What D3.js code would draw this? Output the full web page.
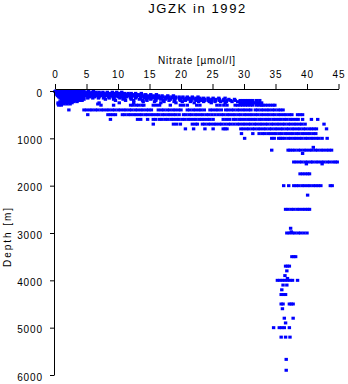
<!DOCTYPE html>
<html><head><meta charset="utf-8">
<script src="https://cdn.jsdelivr.net/npm/d3@7/dist/d3.min.js"></script>
<style>html,body{margin:0;padding:0;background:#fff;}svg{display:block;}</style>
</head><body>
<svg id="chart" width="348" height="384"></svg>
<script>
const titleText = "JGZK in 1992";
const xLabelText = "Nitrate [µmol/l]";
const yLabelText = "Depth [m]";
const xTicks = [0, 5, 10, 15, 20, 25, 30, 35, 40, 45];
const yTicks = [0, 1000, 2000, 3000, 4000, 5000, 6000];

// Sample depths (m) and the nitrate values (µmol/l) observed at each depth
const depths = [0, 10, 25, 50, 75, 100, 125, 150, 175, 200, 225, 250, 275, 300,
  400, 500, 600, 700, 800, 900, 1000, 1190, 1250, 1320, 1500, 1540, 1750, 2000, 2200,
  2500, 2900, 2975, 3000, 3500, 3700, 3800, 3900, 3960, 4000, 4100, 4200, 4300, 4500,
  4600, 4800, 4900, 5000, 5200, 5670, 5900];
const nitrate = [
  [0.1,0.5,0.9,1.3,1.8,2.2,2.6,3.1,3.5,3.9,4.3],
  [0.0,0.4,0.8,1.2,1.7,2.1,2.5,3.0,3.4,3.8,4.2,4.6,5.3,6.1],
  [0.2,0.6,1.0,1.4,1.9,2.3,2.7,3.2,3.6,4.0,4.5,4.9,5.4,5.9,6.5,7.0,7.6,8.3,9.1,9.8,10.6],
  [0.2,0.6,1.1,1.5,2.0,2.4,2.9,3.3,3.8,4.2,4.7,5.1,5.6,6.0,6.5,6.9,7.4,7.8,8.3,8.7,9.2,9.6,10.1,10.5,11.0,11.6,12.1,12.8,13.7],
  [0.3,0.7,1.2,1.6,2.1,2.5,3.0,3.4,3.9,4.3,4.8,5.2,5.7,6.1,6.6,7.0,7.5,7.9,8.4,8.8,9.3,9.7,10.2,10.6,11.1,11.5,12.0,12.4,12.9,13.3,13.8,14.4,15.2,16.1],
  [0.4,0.8,1.3,1.7,2.2,2.6,3.1,3.5,4.0,4.4,4.9,5.3,5.8,6.4,6.9,7.3,7.8,8.2,8.7,9.1,9.6,10.0,10.5,10.9,11.4,11.8,12.3,12.7,13.2,13.6,14.1,14.5,15.0,15.6,16.4,17.0,17.9,18.8],
  [0.6,1.0,1.5,1.9,2.4,2.8,3.3,3.7,4.2,4.6,5.5,6.3,7.0,7.8,8.5,9.2,10.0,10.7,11.4,12.2,12.9,13.6,14.1,14.6,15.1,15.6,16.1,16.6,17.1,17.6,18.1,18.6,19.1,19.7,20.3,21.0,21.8,22.7],
  [0.8,1.2,1.7,2.1,2.6,3.0,3.5,3.9,4.4,5.2,6.0,6.9,7.7,8.6,9.4,10.3,11.1,12.0,12.8,13.6,14.2,14.7,15.3,15.8,16.4,16.9,17.5,18.0,18.6,19.1,19.7,20.2,20.8,21.3,21.9,22.4,23.0,23.6,24.3,25.1,26.0,27.0],
  [1.0,1.4,1.9,2.3,2.8,3.2,3.7,4.1,4.6,8.0,9.3,10.8,12.1,13.4,14.5,15.2,16.0,16.8,17.5,18.3,19.0,19.8,20.5,21.1,21.6,22.2,22.7,23.3,23.8,24.4,24.9,25.5,26.1,26.8,27.6,28.5],
  [1.2,1.6,2.1,2.5,3.0,3.4,3.9,4.3,9.6,11.2,12.5,13.9,14.6,16.0,17.2,18.1,19.0,19.9,20.7,21.6,22.4,23.1,23.7,24.3,24.9,25.5,26.1,26.7,27.3,27.9,28.6,29.4,29.8,30.2,30.6,31.0,31.4,32.0,32.5],
  [0.8,1.2,1.7,2.1,2.6,3.0,3.5,14.0,15.8,17.3,18.9,20.2,21.5,22.8,23.6,24.5,25.4,26.3,27.2,28.1,29.0,30.4,31.3],
  [0.5,0.9,1.4,1.8,2.3,2.7,7.0,10.2,12.5,16.8,19.2,22.1,24.8,27.0,29.4,29.8,30.2,30.6,31.0,31.5,31.9,32.3,32.8],
  [0.5,0.9,1.4,1.9,2.4,6.8],
  [0.6,1.0,7.3,9.3,12.0,12.4,12.9,13.3,13.8,14.1,15.6,16.1,16.6,18.3,19.9,20.4,21.0,22.5,23.0,25.7,26.2,26.8,27.3,28.6,29.0,29.4,29.8,30.2,30.6,31.0,31.4,32.0,32.4,32.8,33.0,33.4,33.8,34.2,34.6,34.9],
  [2.2,4.6,5.0,5.5,5.9,6.4,6.8,7.3,7.7,8.2,8.6,9.1,9.5,10.0,10.4,10.9,11.3,11.8,12.2,12.7,13.1,13.6,14.0,14.5,14.9,15.3,16.4,16.9,17.3,17.8,18.2,18.7,19.1,19.6,20.0,21.0,21.4,21.9,22.3,22.8,23.2,23.7,24.6,25.0,25.5,25.9,26.4,27.1,27.5,28.0,28.4,28.9,29.3,29.8,30.2,30.7,31.1,31.8,32.2,32.7,33.1,33.6,34.0,34.5,34.9,35.4,35.8,36.2],
  [5.2,8.4,8.8,9.2,9.6,10.7,11.1,11.6,12.0,12.5,12.9,13.4,13.8,14.3,14.7,15.2,15.6,16.1,16.5,17.0,17.4,17.9,18.3,18.8,19.2,19.7,20.4,20.8,21.3,21.7,22.2,22.6,23.1,23.5,24.0,24.4,24.9,25.4,25.9,26.4,26.8,27.3,27.7,28.2,28.6,29.1,29.5,30.0,30.4,30.9,31.3,31.8,32.2,32.7,33.1,33.6,34.0,34.5,34.9,35.4,35.8,36.3,36.7,37.2,37.6,38.5,38.9,39.3],
  [8.8,13.1,13.6,14.7,15.6,16.0,16.6,17.0,17.5,17.9,18.4,18.8,19.3,19.7,20.2,20.6,21.1,21.5,22.0,22.4,22.9,23.3,23.7,24.2,24.6,25.1,26.7,27.2,27.7,28.3,28.7,29.2,29.6,30.1,30.6,31.0,31.5,31.9,32.4,32.8,33.3,33.7,34.1,34.6,35.0,35.5,35.9,36.4,36.8,37.3,37.7,38.2,38.6,39.3,40.7,41.7],
  [15.6,18.8,19.3,19.9,21.8,22.3,22.6,23.4,23.8,24.3,24.7,25.2,25.6,26.1,26.5,27.0,27.5,27.9,28.4,28.9,29.3,29.8,30.2,30.7,31.1,31.6,32.0,32.5,32.9,33.4,33.8,34.3,34.7,35.2,35.6,36.1,36.5,37.0,37.4,37.9,38.3,38.8,39.2,39.7,42.7],
  [20.7,22.0,23.8,25.1,26.7,27.0,27.3,29.5,29.9,30.4,30.8,31.3,31.7,32.2,32.6,33.1,33.5,34.0,34.4,34.9,35.3,35.8,36.2,36.7,37.1,37.6,38.0,38.5,38.9,39.4,39.8,40.3,40.7,41.1,41.5,43.1],
  [29.6,31.4,32.4,32.9,33.3,33.8,34.2,34.7,35.1,35.6,36.0,36.5,36.9,37.4,37.8,38.3,38.7,39.2,39.6,40.1,40.5,41.0,41.4],
  [30.1,34.4,34.8,35.5,35.8,36.1,36.5,37.0,37.4,37.9,38.3,38.8,39.2,39.7,40.1,40.6,41.0,41.5,41.9,42.4,43.2],
  [41.0],
  [34.4,37.0,37.3,37.7,38.1,38.6,39.0,39.5,39.9,40.4,40.8,41.3,41.7,42.2,42.6,43.1,43.5,43.9],
  [39.3],
  [37.9,38.3,38.8,39.2,39.7,40.1,40.6,40.9,41.4,41.8,42.3,42.7,43.2,43.6,44.1,44.5,44.8],
  [39.9,42.4],
  [38.9,39.3,39.7,40.1,40.4],
  [36.3,37.1,37.9,38.3,38.7,39.2,39.6,40.1,40.5,41.0,41.4,41.8,42.2,43.7,44.0],
  [40.1],
  [36.6,37.0,37.5,37.9,38.4,38.8,39.3,39.7,40.1,40.4],
  [37.4],
  [37.5],
  [36.8,37.2,37.7,38.1,38.6,39.0,39.5,40.0],
  [37.6,37.9,38.2],
  [36.6,36.9,37.2],
  [36.8],
  [36.5],
  [36.9],
  [35.3,35.7,36.1,36.5,36.9,37.3,37.7,38.5],
  [36.2,36.8],
  [36.0],
  [35.9,36.3,36.6],
  [35.9,36.2,37.2,37.5,37.8],
  [36.1],
  [36.4,37.8],
  [36.6],
  [34.7,35.6,36.0,36.4,37.2],
  [35.9,36.6,37.3],
  [36.7],
  [36.7]
];

const points = depths.flatMap((d, i) => nitrate[i].map(n => ({depth: d, no3: n})));

const svg = d3.select("#chart");
const font = "'Liberation Sans', Arial, Helvetica, sans-serif";
const x = d3.scaleLinear().domain([0, 45]).range([55, 338.5]);
const y = d3.scaleLinear().domain([0, 6000]).range([91, 375]);

svg.append("g").selectAll("rect").data(points).join("rect")
  .attr("x", p => x(p.no3) - 1.7)
  .attr("y", p => y(p.depth) - 1.5)
  .attr("width", 3.4).attr("height", 3)
  .attr("fill", "#0000ff");

const xAxis = svg.append("g").attr("transform", "translate(0,89)")
  .call(d3.axisTop(x).tickValues(xTicks).tickSize(5).tickSizeOuter(0).tickPadding(6).tickFormat(d3.format("d")));
const yAxis = svg.append("g").attr("transform", "translate(54,0)")
  .call(d3.axisLeft(y).tickValues(yTicks).tickSize(4).tickSizeOuter(0).tickPadding(7).tickFormat(d3.format("d")));
[xAxis, yAxis].forEach(g => {
  g.select(".domain").attr("stroke", "#000");
  g.selectAll(".tick line").attr("stroke", "#000");
  g.selectAll(".tick text").attr("fill", "#000")
    .style("font-family", font).style("font-size", "10px").style("letter-spacing", "0.9px");
});
yAxis.selectAll(".tick text").attr("dy", "0.5em");

svg.append("text").attr("x", 196.7).attr("y", 13.3)
  .attr("text-anchor", "middle").attr("textLength", 97).attr("lengthAdjust", "spacing")
  .style("font-family", font).style("font-size", "13px").text(titleText);

svg.append("text").attr("x", 196.5).attr("y", 64)
  .attr("text-anchor", "middle").attr("textLength", 77).attr("lengthAdjust", "spacing")
  .style("font-family", font).style("font-size", "10px").text(xLabelText);

svg.append("text").attr("transform", "translate(11,237.5) rotate(-90)")
  .attr("text-anchor", "middle").attr("textLength", 59).attr("lengthAdjust", "spacing")
  .style("font-family", font).style("font-size", "10px").text(yLabelText);
</script>
</body></html>
